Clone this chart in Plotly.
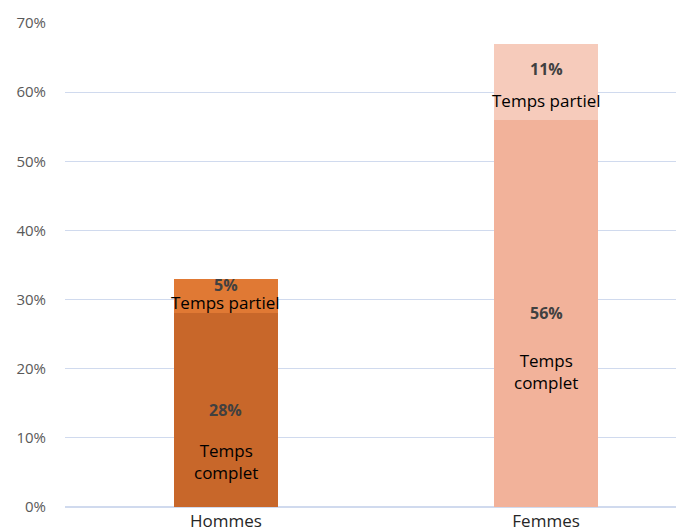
import plotly.graph_objects as go

categories = ["Hommes", "Femmes"]
temps_complet = [28, 56]
temps_partiel = [5, 11]
tick_vals = [0, 10, 20, 30, 40, 50, 60, 70]
tick_text = ["0%", "10%", "20%", "30%", "40%", "50%", "60%", "70%"]

col_complet = ["#C8672A", "#F2B29A"]
col_partiel = ["#E07934", "#F6CBBB"]

fig = go.Figure()
fig.add_trace(go.Bar(x=categories, y=temps_complet, marker=dict(color=col_complet, line=dict(width=0)),
                     width=0.325, name="Temps complet", hoverinfo="skip"))
fig.add_trace(go.Bar(x=categories, y=temps_partiel, marker=dict(color=col_partiel, line=dict(width=0)),
                     width=0.325, name="Temps partiel", hoverinfo="skip"))

font_fam = "Open Sans, Liberation Sans, sans-serif"
pct_font = dict(family=font_fam, size=16, color="#404040")
lab_font = dict(family=font_fam, size=17, color="#000000")

# Complet labels
comp_shifts = [(0, -51), (0, -58)]
for i, c in enumerate(categories):
    mid = temps_complet[i] / 2
    fig.add_annotation(x=c, y=mid, text="<b>%d%%</b>" % temps_complet[i], showarrow=False, font=pct_font,
                       yshift=comp_shifts[i][0])
    fig.add_annotation(x=c, y=mid, text="Temps<br>complet", showarrow=False, font=lab_font,
                       yshift=comp_shifts[i][1])

# Partiel labels
part_shifts = [(11, -6), (13, -19)]
for i, c in enumerate(categories):
    mid = temps_complet[i] + temps_partiel[i] / 2
    fig.add_annotation(x=c, y=mid, text="<b>%d%%</b>" % temps_partiel[i], showarrow=False, font=pct_font,
                       yshift=part_shifts[i][0])
    fig.add_annotation(x=c, y=mid, text="Temps partiel", showarrow=False, font=lab_font,
                       yshift=part_shifts[i][1])

fig.update_layout(
    barmode="stack",
    width=676, height=523,
    margin=dict(l=57, r=0, t=15, b=24),
    paper_bgcolor="white", plot_bgcolor="white",
    showlegend=False,
    font=dict(family=font_fam),
)
fig.update_xaxes(range=[-0.503, 1.431], showgrid=False, showline=False, zeroline=False,
                 tickfont=dict(family=font_fam, size=17, color="#262626"), ticks="",
                 ticklabelstandoff=2)
fig.update_yaxes(range=[0, 70], tickvals=tick_vals, ticktext=tick_text, showgrid=True, gridcolor="#D0DAEE",
                 gridwidth=1, zeroline=True, zerolinecolor="#D0DAEE", zerolinewidth=1.5,
                 tickfont=dict(family=font_fam, size=15, color="#595959"), ticklabelstandoff=18)

fig.write_html("out.html")
